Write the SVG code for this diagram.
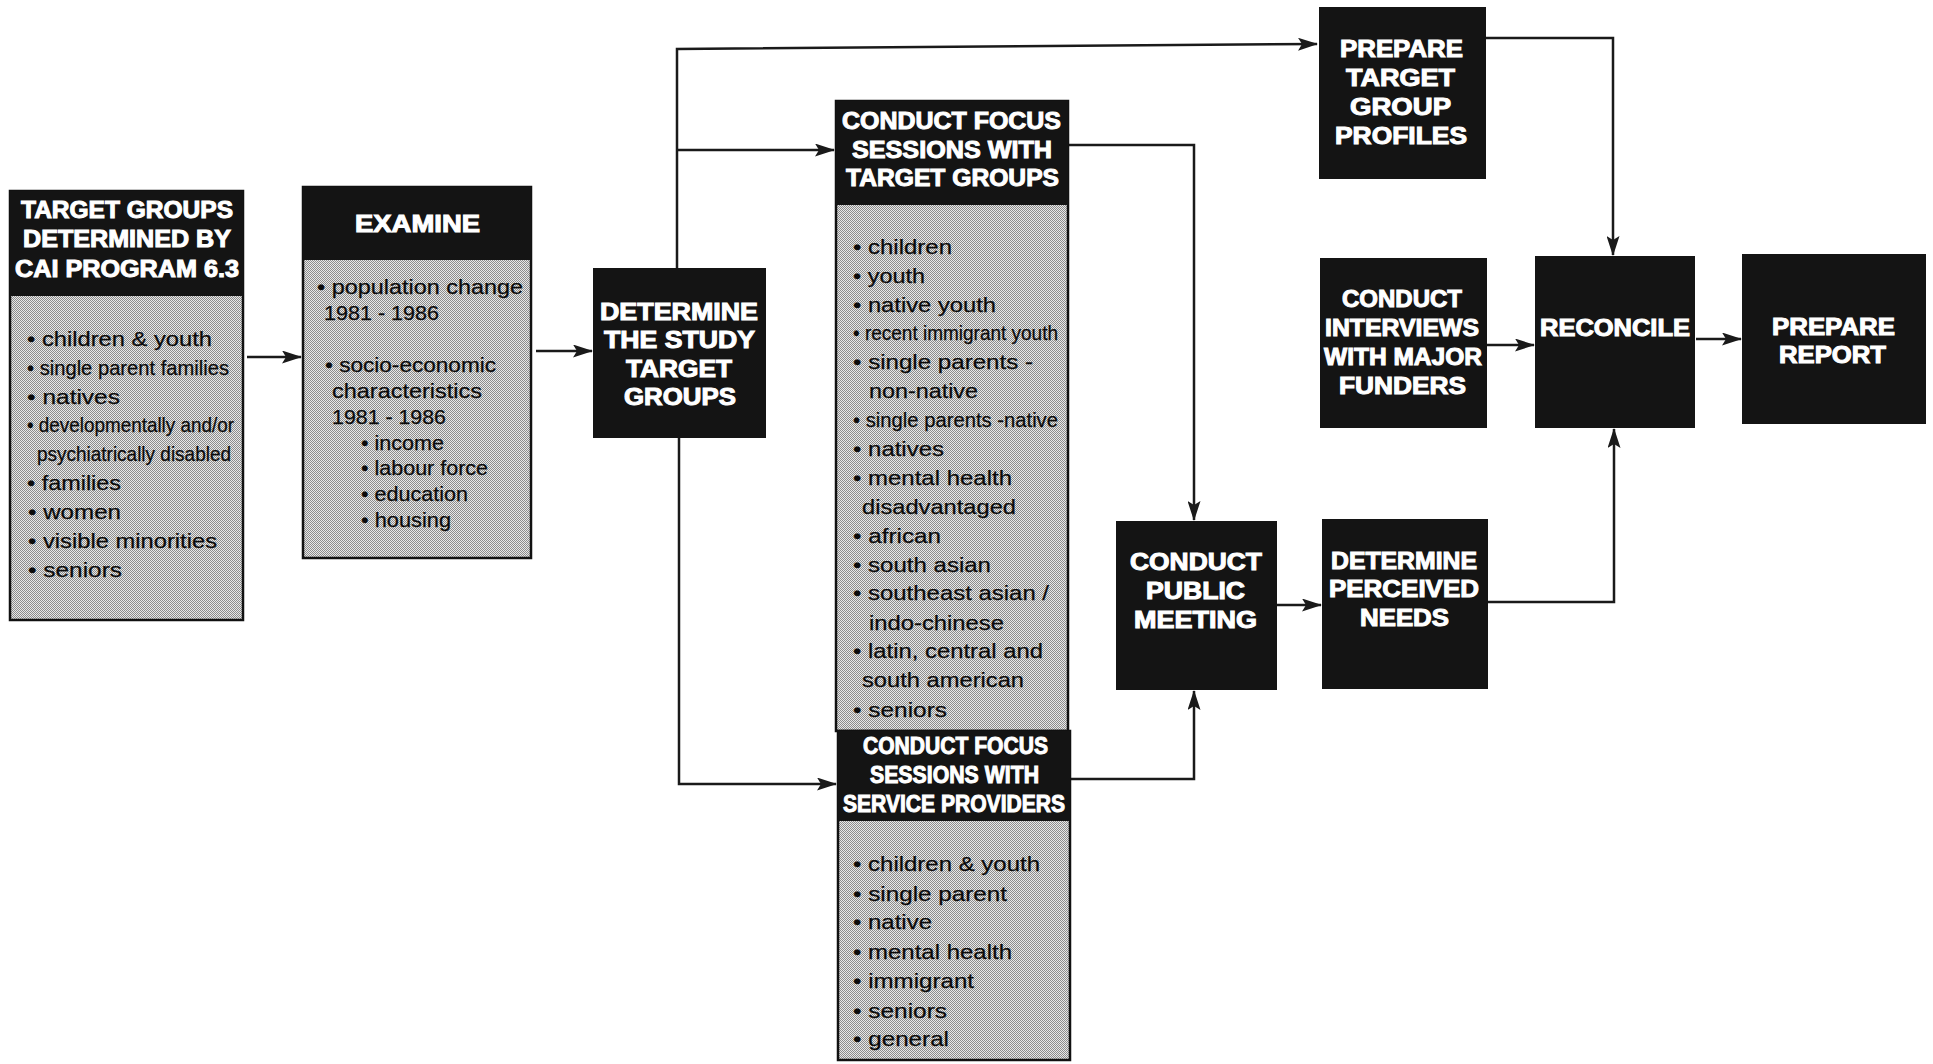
<svg xmlns="http://www.w3.org/2000/svg" width="1933" height="1064" viewBox="0 0 1933 1064">
<style>
.hd{fill:#141414;}
.bx{fill:url(#dots);stroke:#111;stroke-width:2.5;}
.ht{fill:#fff;stroke:#fff;stroke-width:1;font-family:"Liberation Sans",Arial,sans-serif;font-weight:bold;font-size:23px;}
.bt{fill:#0a0a0a;stroke:#0a0a0a;stroke-width:0.25;font-family:"Liberation Sans",Arial,sans-serif;font-size:21px;}
.cn{fill:none;stroke:#1a1a1a;stroke-width:2.5;marker-end:url(#ah);}
</style>
<defs>
<pattern id="dots" width="2" height="2" patternUnits="userSpaceOnUse">
<rect width="2" height="2" fill="#e8e8e8"/>
<rect width="1" height="1" fill="#8c8c8c"/>
<rect x="1" y="1" width="1" height="1" fill="#8c8c8c"/>
</pattern>
<marker id="ah" markerUnits="userSpaceOnUse" markerWidth="20" markerHeight="13" refX="19" refY="6.5" orient="auto">
<path d="M0,0 L20,6.5 L0,13 L4,6.5 z" fill="#1a1a1a"/>
</marker>
</defs>
<rect width="1933" height="1064" fill="#fff"/>

<g id="connectors">
<path class="cn" d="M247 357 H301"/>
<path class="cn" d="M536 351 H592"/>
<path class="cn" d="M677 268 V49 L1317 44"/>
<path class="cn" d="M677 150 H834"/>
<path class="cn" d="M679 438 V784 H836"/>
<path class="cn" d="M1068 145 H1194 V520"/>
<path class="cn" d="M1070 779 H1194 V691"/>
<path class="cn" d="M1277 605 H1321"/>
<path class="cn" d="M1488 602 H1614 V429"/>
<path class="cn" d="M1486 38 H1613 V255"/>
<path class="cn" d="M1487 345 H1534"/>
<path class="cn" d="M1696 339 H1741"/>
</g>

<g id="target-groups">
<rect class="bx" x="10" y="191" width="233" height="429"/>
<rect class="hd" x="10" y="191" width="233" height="105"/>
<text class="ht" x="21" y="218" textLength="212" lengthAdjust="spacingAndGlyphs">TARGET GROUPS</text>
<text class="ht" x="23" y="247" textLength="208" lengthAdjust="spacingAndGlyphs">DETERMINED BY</text>
<text class="ht" x="15" y="277" textLength="224" lengthAdjust="spacingAndGlyphs">CAI PROGRAM 6.3</text>
<text class="bt" x="27" y="346" textLength="185" lengthAdjust="spacingAndGlyphs">• children &amp; youth</text>
<text class="bt" x="27" y="375" textLength="202" lengthAdjust="spacingAndGlyphs">• single parent families</text>
<text class="bt" x="27" y="404" textLength="93" lengthAdjust="spacingAndGlyphs">• natives</text>
<text class="bt" x="27" y="432" textLength="207" lengthAdjust="spacingAndGlyphs">• developmentally and/or</text>
<text class="bt" x="37" y="461" textLength="194" lengthAdjust="spacingAndGlyphs">psychiatrically disabled</text>
<text class="bt" x="27" y="490" textLength="94" lengthAdjust="spacingAndGlyphs">• families</text>
<text class="bt" x="28" y="519" textLength="93" lengthAdjust="spacingAndGlyphs">• women</text>
<text class="bt" x="28" y="548" textLength="189" lengthAdjust="spacingAndGlyphs">• visible minorities</text>
<text class="bt" x="28" y="577" textLength="94" lengthAdjust="spacingAndGlyphs">• seniors</text>
</g>

<g id="examine">
<rect class="bx" x="303" y="187" width="228" height="371"/>
<rect class="hd" x="303" y="187" width="228" height="73"/>
<text class="ht" x="355" y="232" textLength="125" lengthAdjust="spacingAndGlyphs">EXAMINE</text>
<text class="bt" x="317" y="294" textLength="206" lengthAdjust="spacingAndGlyphs">• population change</text>
<text class="bt" x="324" y="320" textLength="115" lengthAdjust="spacingAndGlyphs">1981 - 1986</text>
<text class="bt" x="325" y="372" textLength="171" lengthAdjust="spacingAndGlyphs">• socio-economic</text>
<text class="bt" x="332" y="398" textLength="150" lengthAdjust="spacingAndGlyphs">characteristics</text>
<text class="bt" x="332" y="424" textLength="114" lengthAdjust="spacingAndGlyphs">1981 - 1986</text>
<text class="bt" x="361" y="450" textLength="83" lengthAdjust="spacingAndGlyphs">• income</text>
<text class="bt" x="361" y="475" textLength="127" lengthAdjust="spacingAndGlyphs">• labour force</text>
<text class="bt" x="361" y="501" textLength="107" lengthAdjust="spacingAndGlyphs">• education</text>
<text class="bt" x="361" y="527" textLength="90" lengthAdjust="spacingAndGlyphs">• housing</text>
</g>

<g id="determine-study">
<rect class="hd" x="593" y="268" width="173" height="170"/>
<text class="ht" x="600" y="320" textLength="158" lengthAdjust="spacingAndGlyphs">DETERMINE</text>
<text class="ht" x="604" y="348" textLength="151" lengthAdjust="spacingAndGlyphs">THE STUDY</text>
<text class="ht" x="626" y="377" textLength="106" lengthAdjust="spacingAndGlyphs">TARGET</text>
<text class="ht" x="624" y="405" textLength="112" lengthAdjust="spacingAndGlyphs">GROUPS</text>
</g>

<g id="focus-target-groups">
<rect class="bx" x="836" y="101" width="232" height="630"/>
<rect class="hd" x="836" y="101" width="232" height="104"/>
<text class="ht" x="842" y="129" textLength="219" lengthAdjust="spacingAndGlyphs">CONDUCT FOCUS</text>
<text class="ht" x="852" y="158" textLength="200" lengthAdjust="spacingAndGlyphs">SESSIONS WITH</text>
<text class="ht" x="846" y="186" textLength="213" lengthAdjust="spacingAndGlyphs">TARGET GROUPS</text>
<text class="bt" x="853" y="254" textLength="99" lengthAdjust="spacingAndGlyphs">• children</text>
<text class="bt" x="853" y="283" textLength="72" lengthAdjust="spacingAndGlyphs">• youth</text>
<text class="bt" x="853" y="312" textLength="143" lengthAdjust="spacingAndGlyphs">• native youth</text>
<text class="bt" x="853" y="340" textLength="205" lengthAdjust="spacingAndGlyphs">• recent immigrant youth</text>
<text class="bt" x="853" y="369" textLength="180" lengthAdjust="spacingAndGlyphs">• single parents -</text>
<text class="bt" x="869" y="398" textLength="109" lengthAdjust="spacingAndGlyphs">non-native</text>
<text class="bt" x="853" y="427" textLength="205" lengthAdjust="spacingAndGlyphs">• single parents -native</text>
<text class="bt" x="853" y="456" textLength="91" lengthAdjust="spacingAndGlyphs">• natives</text>
<text class="bt" x="853" y="485" textLength="159" lengthAdjust="spacingAndGlyphs">• mental health</text>
<text class="bt" x="862" y="514" textLength="154" lengthAdjust="spacingAndGlyphs">disadvantaged</text>
<text class="bt" x="853" y="543" textLength="88" lengthAdjust="spacingAndGlyphs">• african</text>
<text class="bt" x="853" y="572" textLength="138" lengthAdjust="spacingAndGlyphs">• south asian</text>
<text class="bt" x="853" y="600" textLength="196" lengthAdjust="spacingAndGlyphs">• southeast asian /</text>
<text class="bt" x="869" y="630" textLength="135" lengthAdjust="spacingAndGlyphs">indo-chinese</text>
<text class="bt" x="853" y="658" textLength="190" lengthAdjust="spacingAndGlyphs">• latin, central and</text>
<text class="bt" x="862" y="687" textLength="162" lengthAdjust="spacingAndGlyphs">south american</text>
<text class="bt" x="853" y="717" textLength="94" lengthAdjust="spacingAndGlyphs">• seniors</text>
</g>

<g id="focus-service-providers">
<rect class="bx" x="838" y="731" width="232" height="329"/>
<rect class="hd" x="838" y="731" width="232" height="90"/>
<text class="ht" x="863" y="754" textLength="185" lengthAdjust="spacingAndGlyphs">CONDUCT FOCUS</text>
<text class="ht" x="870" y="783" textLength="169" lengthAdjust="spacingAndGlyphs">SESSIONS WITH</text>
<text class="ht" x="843" y="812" textLength="222" lengthAdjust="spacingAndGlyphs">SERVICE PROVIDERS</text>
<text class="bt" x="853" y="871" textLength="187" lengthAdjust="spacingAndGlyphs">• children &amp; youth</text>
<text class="bt" x="853" y="901" textLength="154" lengthAdjust="spacingAndGlyphs">• single parent</text>
<text class="bt" x="853" y="929" textLength="79" lengthAdjust="spacingAndGlyphs">• native</text>
<text class="bt" x="853" y="959" textLength="159" lengthAdjust="spacingAndGlyphs">• mental health</text>
<text class="bt" x="853" y="988" textLength="121" lengthAdjust="spacingAndGlyphs">• immigrant</text>
<text class="bt" x="853" y="1018" textLength="94" lengthAdjust="spacingAndGlyphs">• seniors</text>
<text class="bt" x="853" y="1046" textLength="96" lengthAdjust="spacingAndGlyphs">• general</text>
</g>

<g id="public-meeting">
<rect class="hd" x="1116" y="521" width="161" height="169"/>
<text class="ht" x="1130" y="570" textLength="132" lengthAdjust="spacingAndGlyphs">CONDUCT</text>
<text class="ht" x="1146" y="599" textLength="99" lengthAdjust="spacingAndGlyphs">PUBLIC</text>
<text class="ht" x="1134" y="628" textLength="123" lengthAdjust="spacingAndGlyphs">MEETING</text>
</g>

<g id="perceived-needs">
<rect class="hd" x="1322" y="519" width="166" height="170"/>
<text class="ht" x="1331" y="569" textLength="146" lengthAdjust="spacingAndGlyphs">DETERMINE</text>
<text class="ht" x="1329" y="597" textLength="150" lengthAdjust="spacingAndGlyphs">PERCEIVED</text>
<text class="ht" x="1360" y="626" textLength="89" lengthAdjust="spacingAndGlyphs">NEEDS</text>
</g>

<g id="target-group-profiles">
<rect class="hd" x="1319" y="7" width="167" height="172"/>
<text class="ht" x="1340" y="57" textLength="123" lengthAdjust="spacingAndGlyphs">PREPARE</text>
<text class="ht" x="1346" y="86" textLength="109" lengthAdjust="spacingAndGlyphs">TARGET</text>
<text class="ht" x="1350" y="115" textLength="101" lengthAdjust="spacingAndGlyphs">GROUP</text>
<text class="ht" x="1335" y="144" textLength="132" lengthAdjust="spacingAndGlyphs">PROFILES</text>
</g>

<g id="interviews">
<rect class="hd" x="1320" y="258" width="167" height="170"/>
<text class="ht" x="1342" y="307" textLength="120" lengthAdjust="spacingAndGlyphs">CONDUCT</text>
<text class="ht" x="1325" y="336" textLength="154" lengthAdjust="spacingAndGlyphs">INTERVIEWS</text>
<text class="ht" x="1324" y="365" textLength="158" lengthAdjust="spacingAndGlyphs">WITH MAJOR</text>
<text class="ht" x="1339" y="394" textLength="127" lengthAdjust="spacingAndGlyphs">FUNDERS</text>
</g>

<g id="reconcile">
<rect class="hd" x="1535" y="256" width="160" height="172"/>
<text class="ht" x="1540" y="336" textLength="150" lengthAdjust="spacingAndGlyphs">RECONCILE</text>
</g>

<g id="prepare-report">
<rect class="hd" x="1742" y="254" width="184" height="170"/>
<text class="ht" x="1772" y="335" textLength="123" lengthAdjust="spacingAndGlyphs">PREPARE</text>
<text class="ht" x="1779" y="363" textLength="107" lengthAdjust="spacingAndGlyphs">REPORT</text>
</g>
</svg>
